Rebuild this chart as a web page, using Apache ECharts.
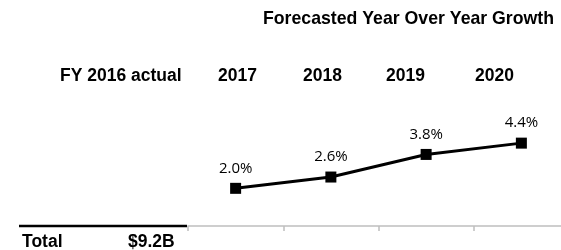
<!DOCTYPE html>
<html>
<head>
<meta charset="utf-8">
<script src="https://cdn.jsdelivr.net/npm/echarts@6/dist/echarts.min.js"></script>
<style>
	html, body { margin: 0; padding: 0; background: #fff; }
	#growthDiv { width: 561px; height: 250px; }
</style>
</head>
<body>
<div id="growthDiv"></div>
<script>
// 数据
const years = ['2017', '2018', '2019', '2020'];
const growth = [2.0, 2.6, 3.8, 4.4];
const headerLabels = ['FY 2016 actual', '2017', '2018', '2019', '2020'];
const headerLeft = [60, 218, 303, 386, 475];
const totalLabel = 'Total';
const totalValue = '$9.2B';
const titleText = 'Forecasted Year Over Year Growth';

let growthChart = echarts.init(document.getElementById(`growthDiv`));

let headerTexts = headerLabels.map((t, i) => ({
	type: 'text',
	left: headerLeft[i],
	top: 67,
	style: {
		text: t,
		fill: '#000',
		font: 'bold 17.5px "Liberation Sans", Arial, sans-serif'
	}
}));

let growthOption = {
	animation: false,
	backgroundColor: '#fff',
	grid: {
		left: 188,
		top: 113,
		bottom: 24,
		width: 381,
		outerBoundsMode: 'none' // 轴线延伸到画布外
	},
	xAxis: {
		type: 'category',
		data: years,
		boundaryGap: true,
		axisLine: { //灰色轴线
			lineStyle: {
				color: '#bfbfbf',
				width: 1.5
			}
		},
		axisTick: {
			show: true,
			length: 5,
			lineStyle: {
				color: '#bfbfbf',
				width: 1.5
			}
		},
		axisLabel: { show: false },
		splitLine: { show: false }
	},
	yAxis: {
		type: 'value',
		min: 0,
		max: 6,
		show: false
	},
	graphic: [
		{
			type: 'text',
			left: 263,
			top: 10,
			style: {
				text: titleText,
				fill: '#000',
				font: 'bold 17.7px "Liberation Sans", Arial, sans-serif'
			}
		},
		...headerTexts,
		{
			type: 'line',
			shape: { x1: 19, y1: 226, x2: 187, y2: 226 },
			style: { stroke: '#000', lineWidth: 2.5 }
		},
		{
			type: 'text',
			left: 22,
			top: 233,
			style: {
				text: totalLabel,
				fill: '#000',
				font: 'bold 17.5px "Liberation Sans", Arial, sans-serif'
			}
		},
		{
			type: 'text',
			left: 128,
			top: 233,
			style: {
				text: totalValue,
				fill: '#000',
				font: 'bold 17.5px "Liberation Sans", Arial, sans-serif'
			}
		}
	],
	series: [{
		name: 'growth',
		type: 'line',
		data: growth,
		symbol: 'rect',
		symbolSize: 11,
		lineStyle: { color: '#000', width: 3 },
		itemStyle: { color: '#000' },
		label: {
			show: true,
			position: 'top',
			distance: 7,
			color: '#000',
			fontFamily: '"Open Sans", sans-serif',
			fontSize: 15,
			formatter: (p) => p.value.toFixed(1) + '%'
		}
	}]
};

growthChart.setOption(growthOption)
</script>
</body>
</html>
